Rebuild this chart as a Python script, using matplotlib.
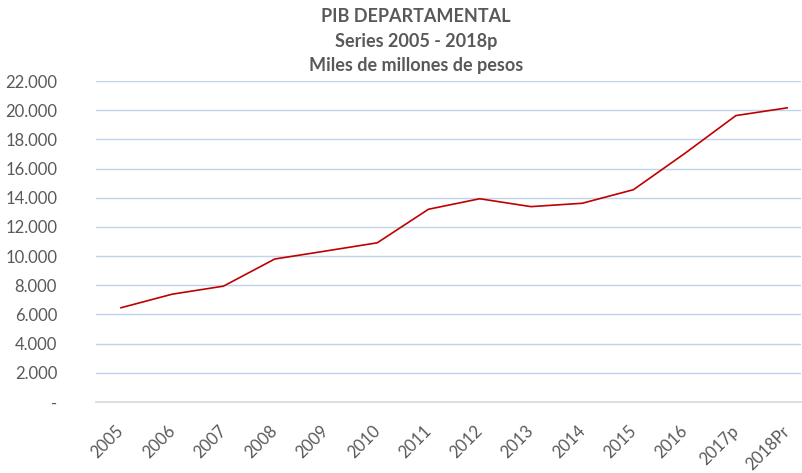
import matplotlib.pyplot as plt
import matplotlib.transforms as mtransforms
from matplotlib.ticker import FuncFormatter

plt.rcParams['font.family'] = ['Lato', 'DejaVu Sans']

years = ['2005', '2006', '2007', '2008', '2009', '2010', '2011',
         '2012', '2013', '2014', '2015', '2016', '2017p', '2018Pr']
pib = [6460, 7390, 7940, 9800, 10350, 10910, 13210,
       13930, 13390, 13620, 14550, 17030, 19630, 20160]
y_ticks = list(range(0, 22001, 2000))

title_lines = ['PIB DEPARTAMENTAL', 'Series 2005 - 2018p', 'Miles de millones de pesos']

text_col = '#595959'

fig = plt.figure(figsize=(8.02, 4.73), dpi=100)
ax = fig.add_axes([96 / 802, 1 - 402 / 473, 705 / 802, 321 / 473])

x = list(range(len(years)))
ax.plot(x, pib, color='#C00000', linewidth=1.2)

ax.set_xlim(-0.488, 13.27)
ax.set_ylim(0, 22000)
ax.set_yticks(y_ticks)
ax.yaxis.set_major_formatter(FuncFormatter(
    lambda v, p: '-' if v == 0 else f'{int(v):,}'.replace(',', '.')))
ax.set_xticks(x)
ax.set_xticklabels(years, rotation=45, ha='right')

ax.grid(axis='y', color='#BFD3EB', linewidth=1)
ax.set_axisbelow(True)
for side in ['top', 'right', 'left']:
    ax.spines[side].set_visible(False)
ax.spines['bottom'].set_color('#D9D9D9')
ax.spines['bottom'].set_linewidth(1.2)
ax.tick_params(axis='both', length=0, labelsize=12, labelcolor=text_col)
ax.tick_params(axis='y', pad=28)
ax.tick_params(axis='x', pad=15)
for lab in ax.get_yticklabels():
    lab.set_horizontalalignment('right')

# nudge the rotated year labels a bit to the right, like the original
shift = mtransforms.ScaledTranslation(6 / 100, 0, fig.dpi_scale_trans)
for lab in ax.get_xticklabels():
    lab.set_transform(lab.get_transform() + shift)

for i, line in enumerate(title_lines):
    fig.text(0.519, 1 - (16 + 25 * i) / 473, line, ha='center', va='center',
             fontsize=13, fontweight='bold', color=text_col)

fig.savefig('out.png', dpi=100)
